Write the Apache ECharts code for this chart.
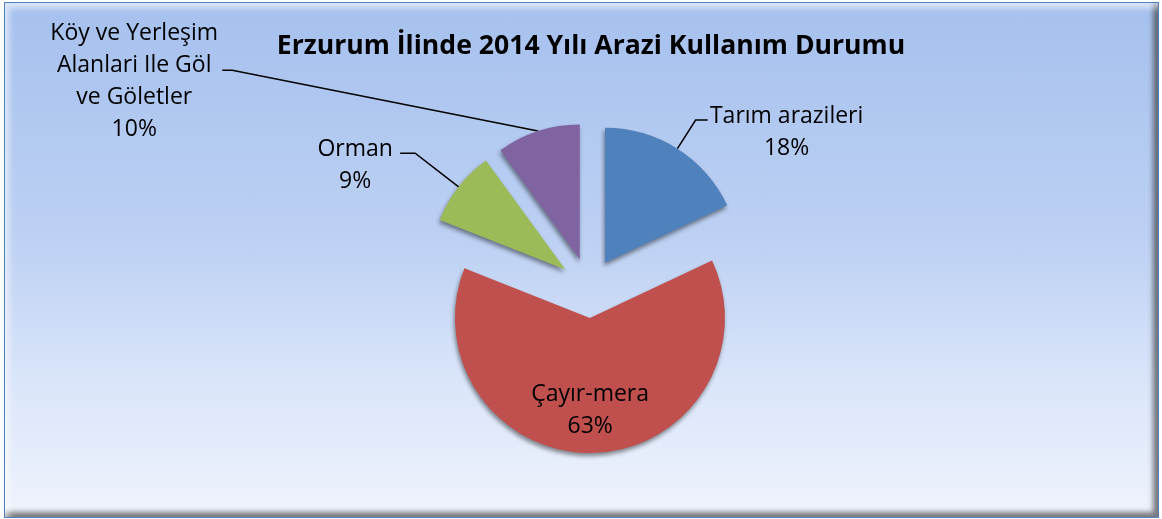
<!DOCTYPE html>
<html>
<head>
<meta charset="utf-8">
<title>Erzurum İlinde 2014 Yılı Arazi Kullanım Durumu</title>
<script src="https://cdn.jsdelivr.net/npm/echarts@6/dist/echarts.min.js"></script>
<style>
  html, body { margin: 0; padding: 0; width: 1162px; height: 519px; overflow: hidden; background: #fff; }
  #frame {
    position: absolute; left: 4px; top: 2px; width: 1155px; height: 516px;
    box-sizing: border-box; border: 1px solid #4f81bd;
    background: linear-gradient(to bottom, #a6c1ee 0%, #bcd0f3 45%, #dbe6fa 75%, #eff3fc 100%);
    box-shadow: inset 7px 8px 6px -3px rgba(255,255,255,0.6), inset -8px -8px 5px -3px rgba(60,60,60,0.65);
  }
  #chart { position: absolute; left: 0; top: 0; width: 1162px; height: 519px; }
</style>
</head>
<body>
<div id="frame"></div>
<div id="chart"></div>
<script>
// land use shares, Erzurum 2014 (percent)
const categories = ['Tarım arazileri', 'Çayır-mera', 'Orman', 'Köy ve Yerleşim\nAlanlari Ile Göl\nve Göletler'];
const shares = [18, 63, 9, 10];

const titleText = 'Erzurum İlinde 2014 Yılı Arazi Kullanım Durumu';
const labelFont = '"Open Sans", "DejaVu Sans", sans-serif';

// label placement tweaks, one per slice
const labelTweaks = [
  { style: 'a', len: 34, len2: 12, gap: 3, dy: 12 },
  { style: 'b', inside: true, dx: -2, dy: 22 },
  { style: 'c', len: 55, len2: 15, gap: 6, dy: 12 },
  { style: 'd', len: 64, len2: 296, gap: 5, dy: 11, straight: true, knee: 10 }
];

const chart = echarts.init(document.getElementById('chart'), null, { renderer: 'canvas' });

const pieData = categories.map(function (name, i) {
  const t = labelTweaks[i];
  const item = {
    name: name,
    value: shares[i],
    selected: true,
    label: {
      formatter: '{' + t.style + '|{b}}\n{' + t.style + '|{d}%}'
    }
  };
  if (t.inside) {
    item.label.position = 'inside';
  } else {
    item.label.position = 'outside';
    item.label.distanceToLabelLine = t.gap;
    item.labelLine = { length: t.len, length2: t.len2 };
  }
  return item;
});

const txt = { fontFamily: labelFont, fontSize: 23, lineHeight: 32, color: '#000', align: 'center' };

chart.setOption({
  animation: false,
  backgroundColor: 'transparent',
  color: ['#4f81bd', '#c0504d', '#9bbb59', '#8064a2'],
  title: {
    text: titleText,
    left: 586,
    top: 28,
    textAlign: 'center',
    textStyle: { fontFamily: labelFont, fontWeight: 'bold', fontSize: 26.6, color: '#000' }
  },
  series: [{
    type: 'pie',
    center: [589, 288],
    radius: 135,
    startAngle: 90,
    clockwise: true,
    selectedMode: 'multiple',
    selectedOffset: 30,
    avoidLabelOverlap: false,
    percentPrecision: 0,
    emphasis: { disabled: true },
    itemStyle: {
      shadowBlur: 4,
      shadowOffsetX: -1,
      shadowOffsetY: 3,
      shadowColor: 'rgba(0,0,0,0.45)'
    },
    label: {
      show: true,
      color: '#000',
      rich: {
        a: Object.assign({ width: 152 }, txt),
        b: Object.assign({}, txt),
        c: Object.assign({ width: 78 }, txt),
        d: Object.assign({ width: 166 }, txt)
      }
    },
    labelLine: {
      show: true,
      lineStyle: { color: '#000', width: 1.5 }
    },
    labelLayout: function (params) {
      const t = labelTweaks[params.dataIndex];
      const out = { dx: t.dx || 0, dy: t.dy || 0 };
      if (t.straight && params.labelLinePoints) {
        const p = params.labelLinePoints;
        const end = p[p.length - 1];
        out.labelLinePoints = [p[0], [end[0] + t.knee, end[1]], end];
      }
      return out;
    },
    data: pieData
  }]
});
</script>
</body>
</html>
